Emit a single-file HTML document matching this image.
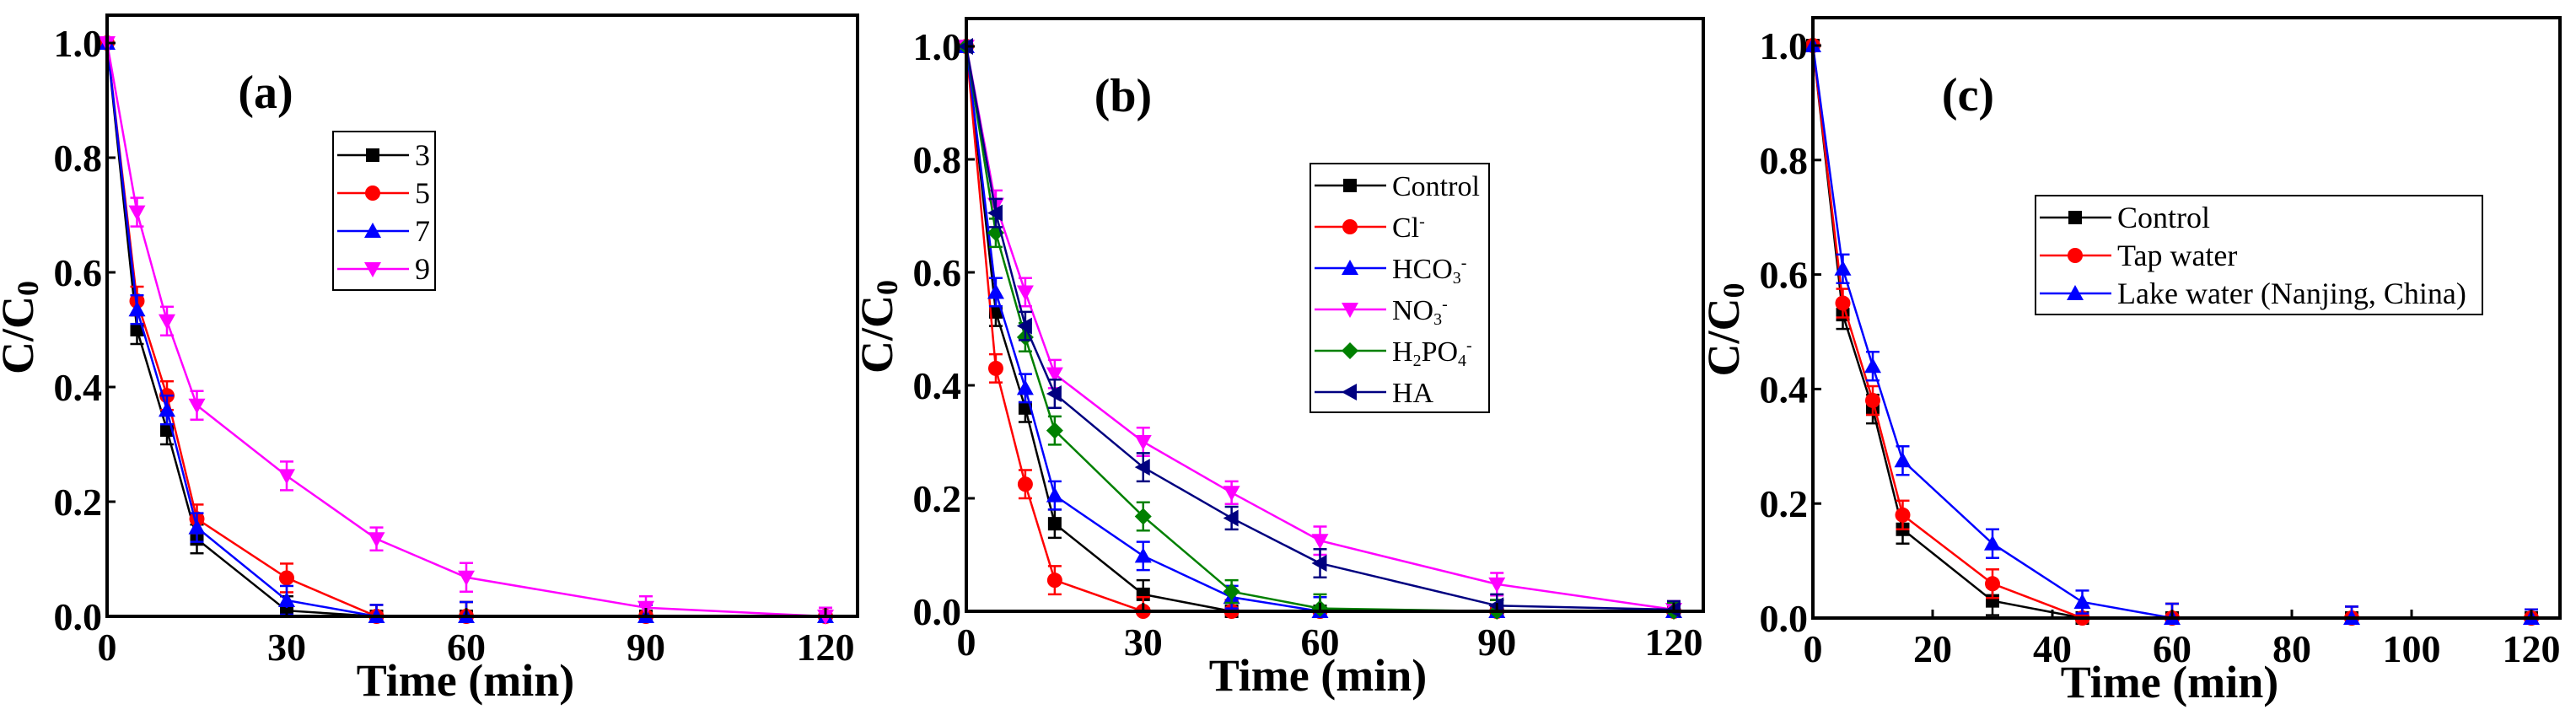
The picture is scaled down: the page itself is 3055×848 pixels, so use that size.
<!DOCTYPE html>
<html><head><meta charset="utf-8"><style>
html,body{margin:0;padding:0;background:#fff;width:3055px;height:848px;overflow:hidden}
svg{display:block}
text{font-family:"Liberation Serif","DejaVu Serif",serif}
</style></head><body>
<svg id="fig" width="3055" height="848" xmlns="http://www.w3.org/2000/svg" font-family="Liberation Serif, serif"></svg>
<script>
const times=[0,5,10,15,30,45,60,90,120];
// panel a
const aNames=["3","5","7","9"];
const a3=[1,0.50,0.325,0.135,0.01,0,0,0,0];
const a5=[1,0.55,0.385,0.17,0.067,0,0,0,0];
const a7=[1,0.535,0.36,0.155,0.028,0,0,0,0];
const a9=[1,0.705,0.515,0.368,0.245,0.135,0.068,0.015,0];
// panel b
const bNames=["Control","Cl","HCO3","NO3","H2PO4","HA"];
const bControl=[1,0.53,0.36,0.155,0.03,0,0,0,0];
const bCl=[1,0.43,0.225,0.055,0,0,0,0,0];
const bHCO3=[1,0.565,0.395,0.205,0.098,0.025,0,0,0];
const bNO3=[1,0.72,0.565,0.42,0.30,0.21,0.125,0.048,0.003];
const bH2PO4=[1,0.67,0.485,0.32,0.168,0.035,0.005,0,0];
const bHA=[1,0.705,0.505,0.385,0.255,0.165,0.085,0.01,0.003];
// panel c
const cNames=["Control","Tap water","Lake water (Nanjing, China)"];
const cControl=[1,0.53,0.365,0.155,0.03,0,0,0,0];
const cTap=[1,0.55,0.38,0.18,0.06,0,0,0,0];
const cLake=[1,0.61,0.44,0.275,0.13,0.028,0,0,0];
const yTicks=[0,0.2,0.4,0.6,0.8,1.0];
const xTicksAB=[0,30,60,90,120];
const xTicksC=[0,20,40,60,80,100,120];
const errA=[0,0.025,0.025,0.025,0.025,0.02,0.025,0.02,0.015];

const NS="http://www.w3.org/2000/svg";
const svg=document.getElementById('fig');
function el(tag,attrs,parent){const e=document.createElementNS(NS,tag);for(const k in attrs)e.setAttribute(k,attrs[k]);(parent||svg).appendChild(e);return e;}
const FF='Liberation Serif, serif';

function marker(g,shape,x,y,color){
  const s=8;let m;
  if(shape==='sq')m=el('rect',{x:x-s,y:y-s,width:2*s,height:2*s,fill:color},g);
  else if(shape==='ci')m=el('circle',{cx:x,cy:y,r:s+1,fill:color},g);
  else if(shape==='up')m=el('polygon',{points:`${x},${y-s-2} ${x-s-2},${y+s} ${x+s+2},${y+s}`,fill:color},g);
  else if(shape==='dn')m=el('polygon',{points:`${x},${y+s+2} ${x-s-2},${y-s} ${x+s+2},${y-s}`,fill:color},g);
  else if(shape==='di')m=el('polygon',{points:`${x},${y-s-2} ${x+s+2},${y} ${x},${y+s+2} ${x-s-2},${y}`,fill:color},g);
  else if(shape==='lt')m=el('polygon',{points:`${x-s-2},${y} ${x+s},${y-s-2} ${x+s},${y+s+2}`,fill:color},g);
  return m;
}

function panel(cfg){
  const {L,R,T,B,x0px,x120px,y1px,label,labelX,xTicks,series,legend,pname}=cfg;
  const g=el('g',{'font-family':FF});
  
  
  const X=v=>x0px+(x120px-x0px)*v/120;
  const Y=v=>B+(y1px-B)*v;
  series.forEach(s=>{
    const sg=el('g',{},g);
    
    
    const pts=times.map((t,i)=>X(t)+','+Y(s.vals[i])).join(' ');
    el('polyline',{points:pts,fill:'none',stroke:s.color,'stroke-width':2.5},sg);
    times.forEach((t,i)=>{
      const x=X(t),y=Y(s.vals[i]),e=errA[i];
      if(e>0){
        el('line',{x1:x,y1:Y(s.vals[i]+e),x2:x,y2:Y(Math.max(s.vals[i]-e,0)),stroke:s.color,'stroke-width':2.5},sg);
        el('line',{x1:x-8,y1:Y(s.vals[i]+e),x2:x+8,y2:Y(s.vals[i]+e),stroke:s.color,'stroke-width':2.5},sg);
        if(s.vals[i]-e>0)el('line',{x1:x-8,y1:Y(s.vals[i]-e),x2:x+8,y2:Y(s.vals[i]-e),stroke:s.color,'stroke-width':2.5},sg);
      }
      const m=marker(sg,s.shape,x,y,s.color);
      
      
    });
  });
  const fr=el('rect',{x:L,y:T,width:R-L,height:B-T,fill:'none',stroke:'#000','stroke-width':4},g);
  
  
  yTicks.forEach(v=>{
    el('line',{x1:L,y1:Y(v),x2:L+10,y2:Y(v),stroke:'#000','stroke-width':3},g);
    const t=el('text',{x:L-6,y:Y(v)+16,'font-size':46,'font-weight':'bold','text-anchor':'end'},g);
    t.textContent=v.toFixed(1);
    
    
  });
  xTicks.forEach(v=>{
    el('line',{x1:X(v),y1:B,x2:X(v),y2:B-10,stroke:'#000','stroke-width':3},g);
    const t=el('text',{x:X(v),y:B+52,'font-size':46,'font-weight':'bold','text-anchor':'middle'},g);
    t.textContent=v;
    
    
  });
  const xt=el('text',{x:(L+R)/2-20,y:B+94,'font-size':54,'font-weight':'bold','text-anchor':'middle'},g);
  xt.textContent='Time (min)';
  
  
  const yt=el('text',{x:0,y:0,'font-size':54,'font-weight':'bold','text-anchor':'middle',transform:`translate(${L-88},${(T+B)/2+14}) rotate(-90)`},g);
  yt.innerHTML='C/C<tspan font-size="36" dy="6">0</tspan>';
  
  
  const pl=el('text',{x:labelX,y:T+110,'font-size':56,'font-weight':'bold','text-anchor':'middle'},g);
  pl.textContent=label;
  
  
  const lg=el('g',{},g);
  
  
  el('rect',{x:legend.x,y:legend.y,width:legend.w,height:legend.h,fill:'#fff',stroke:'#000','stroke-width':2},lg);
  series.forEach((s,i)=>{
    const yy=legend.y+legend.y0+i*legend.dy;
    const e=el('g',{},lg);
    
    
    el('line',{x1:legend.x+5,y1:yy,x2:legend.x+90,y2:yy,stroke:s.color,'stroke-width':2.5},e);
    marker(e,s.shape,legend.x+47,yy,s.color);
    const t=el('text',{x:legend.x+97,y:yy+12,'font-size':legend.fs},e);
    t.innerHTML=s.label;
  });
}

panel({pname:'a',L:127,R:1017,T:18,B:731,x0px:127,x120px:979,y1px:51,label:'(a)',labelX:315,xTicks:xTicksAB,
  legend:{x:395,y:156,w:121,h:188,y0:28,dy:45,fs:36},
  series:[
    {key:'ph3',label:aNames[0],vals:a3,color:'#000',shape:'sq'},
    {key:'ph5',label:aNames[1],vals:a5,color:'#f00',shape:'ci'},
    {key:'ph7',label:aNames[2],vals:a7,color:'#00f',shape:'up'},
    {key:'ph9',label:aNames[3],vals:a9,color:'#f0f',shape:'dn'}]});
panel({pname:'b',L:1146,R:2020,T:22,B:725,x0px:1146,x120px:1985,y1px:55,label:'(b)',labelX:1332,xTicks:xTicksAB,
  legend:{x:1554,y:194,w:212,h:295,y0:26,dy:49,fs:34},
  series:[
    {key:'control',label:bNames[0],vals:bControl,color:'#000',shape:'sq'},
    {key:'cl',label:'Cl<tspan font-size="20" dy="-12">-</tspan>',vals:bCl,color:'#f00',shape:'ci'},
    {key:'hco3',label:'HCO<tspan font-size="20" dy="6">3</tspan><tspan font-size="20" dy="-18">-</tspan>',vals:bHCO3,color:'#00f',shape:'up'},
    {key:'no3',label:'NO<tspan font-size="20" dy="6">3</tspan><tspan font-size="20" dy="-18">-</tspan>',vals:bNO3,color:'#f0f',shape:'dn'},
    {key:'h2po4',label:'H<tspan font-size="20" dy="6">2</tspan><tspan dy="-6">PO</tspan><tspan font-size="20" dy="6">4</tspan><tspan font-size="20" dy="-18">-</tspan>',vals:bH2PO4,color:'#008000',shape:'di'},
    {key:'ha',label:bNames[5],vals:bHA,color:'#000080',shape:'lt'}]});
panel({pname:'c',L:2150,R:3036,T:21,B:733,x0px:2150,x120px:3002,y1px:54,label:'(c)',labelX:2334,xTicks:xTicksC,
  legend:{x:2414,y:232,w:530,h:141,y0:26,dy:45,fs:36},
  series:[
    {key:'control',label:cNames[0],vals:cControl,color:'#000',shape:'sq'},
    {key:'tap',label:cNames[1],vals:cTap,color:'#f00',shape:'ci'},
    {key:'lake',label:cNames[2],vals:cLake,color:'#00f',shape:'up'}]});
</script>
</body></html>
